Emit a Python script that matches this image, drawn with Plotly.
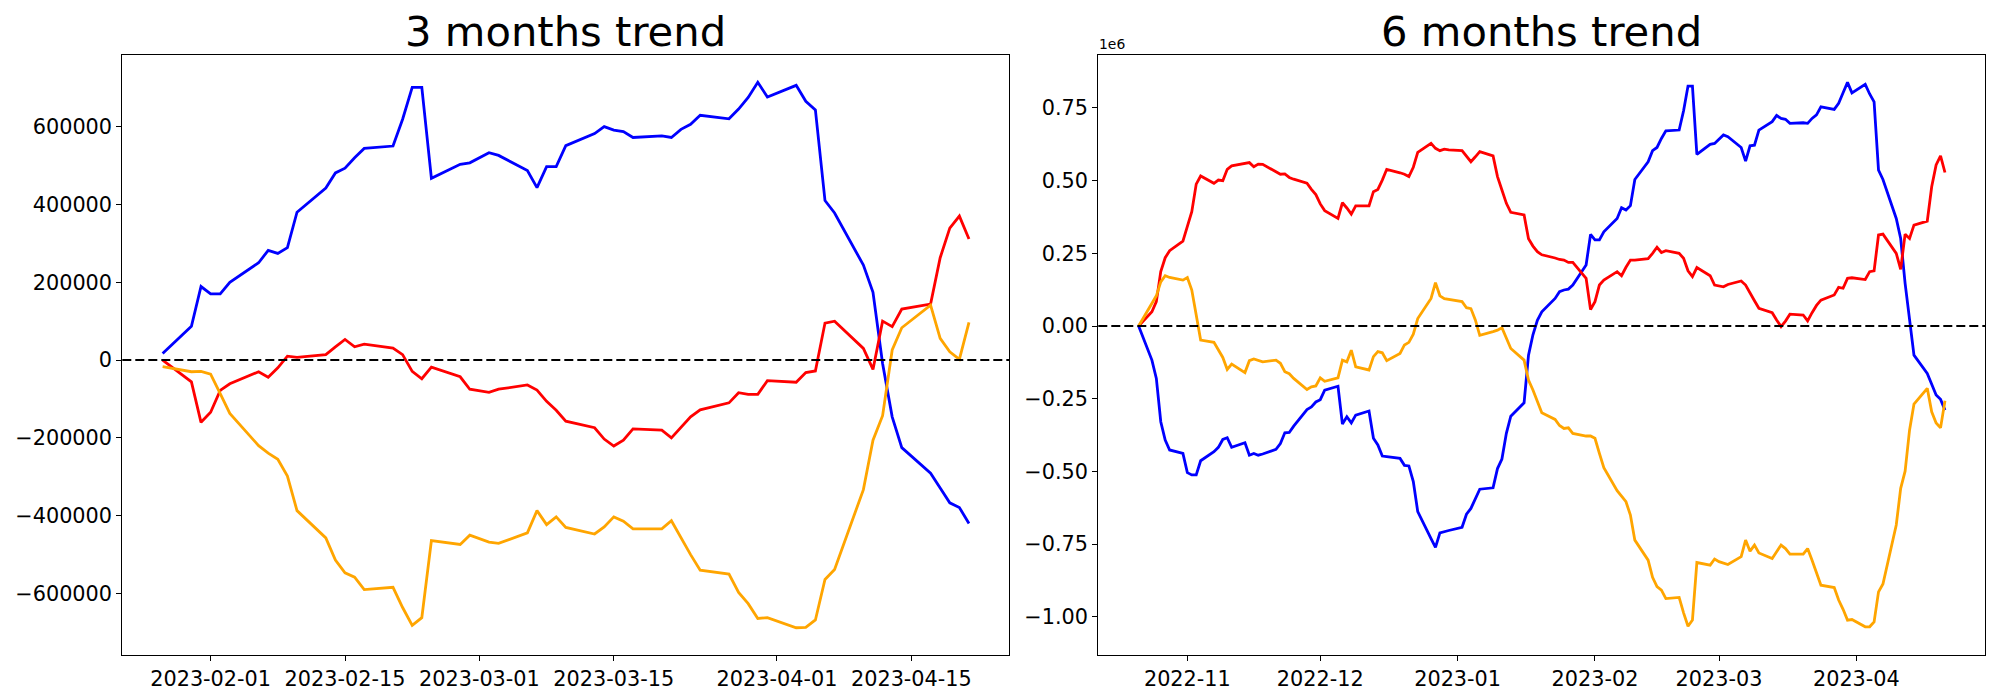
import pandas as pd
import plotly.graph_objects as go

# ---------------- data: 3 months trend ----------------
dates_3m = pd.bdate_range("2023-01-27", "2023-04-21")
blue_3m = [17, 87, 189, 170, 170, 200, 250, 282, 274, 289, 380,
           442, 481, 493, 520, 544, 550, 619, 701, 701, 467,
           503, 507, 520, 533, 526, 487, 443, 497, 497, 551,
           582, 600, 591, 587, 572, 576, 572, 593, 606, 629,
           620, 645, 675, 714, 676, 706, 665, 643, 410, 378,
           244, 174, -9, -146, -225, -291, -329, -367, -379, -420]
red_3m = [0, -56, -160, -134, -78, -61, -30, -44, -20, 10, 7,
          14, 34, 53, 34, 41, 31, 14, -29, -48, -18,
          -43, -75, -79, -83, -75, -64, -77, -106, -129, -157,
          -174, -203, -221, -206, -177, -180, -200, -172, -146, -128,
          -110, -84, -88, -88, -53, -57, -32, -28, 95, 100,
          30, -24, 100, 86, 131, 144, 263, 339, 370, 311]
orange_3m = [-17, -30, -29, -36, -86, -137, -220, -239, -255, -298, -387,
             -457, -514, -547, -558, -590, -584, -636, -682, -662, -464,
             -474, -450, -459, -468, -471, -444, -387, -423, -403, -430,
             -447, -429, -403, -414, -434, -434, -413, -457, -500, -540,
             -550, -597, -626, -664, -662, -688, -687, -668, -564, -538,
             -333, -206, -143, 26, 83, 141, 56, 21, 2, 97]

# ---------------- data: 6 months trend (in millions) ----------------
dates_6m = pd.bdate_range("2022-10-21", "2023-04-21")
blue_6m = [0.000,
           -0.117, -0.180, -0.329, -0.392, -0.426,
           -0.438, -0.504, -0.512, -0.512, -0.463,
           -0.432, -0.417, -0.390, -0.384, -0.417,
           -0.401, -0.444, -0.438, -0.444, -0.440,
           -0.424, -0.404, -0.367, -0.366, -0.344,
           -0.287, -0.278, -0.261, -0.253, -0.220,
           -0.207, -0.337, -0.312, -0.333, -0.306,
           -0.292, -0.386, -0.409, -0.447, -0.449,
           -0.455, -0.479, -0.481, -0.535, -0.638,
           -0.731, -0.761, -0.711, -0.706, -0.703,
           -0.692, -0.647, -0.627, -0.594, -0.561,
           -0.556, -0.490, -0.457, -0.369, -0.310,
           -0.264, -0.100, -0.030, 0.020, 0.049,
           0.095, 0.118, 0.124, 0.127, 0.141,
           0.210, 0.315, 0.296, 0.296, 0.324,
           0.370, 0.407, 0.399, 0.414, 0.504,
           0.565, 0.603, 0.614, 0.645, 0.671,
           0.674, 0.740, 0.825, 0.825, 0.590,
           0.625, 0.628, 0.642, 0.657, 0.651,
           0.614, 0.567, 0.620, 0.622, 0.674,
           0.703, 0.724, 0.714, 0.711, 0.697,
           0.699, 0.697, 0.714, 0.726, 0.754,
           0.745, 0.766, 0.802, 0.838, 0.802,
           0.831, 0.798, 0.771, 0.536, 0.504,
           0.370, 0.301, 0.147, 0.021, -0.100,
           -0.163, -0.203, -0.237, -0.252, -0.289]
red_6m = [0.000,
          0.049, 0.084, 0.187, 0.235, 0.259,
          0.292, 0.342, 0.393, 0.488, 0.516,
          0.491, 0.502, 0.500, 0.539, 0.551,
          0.559, 0.562, 0.548, 0.557, 0.556,
          0.531, 0.522, 0.523, 0.511, 0.505,
          0.491, 0.470, 0.452, 0.420, 0.397,
          0.370, 0.424, 0.406, 0.385, 0.413,
          0.413, 0.462, 0.470, 0.502, 0.539,
          0.527, 0.522, 0.514, 0.546, 0.597,
          0.628, 0.611, 0.603, 0.608, 0.606,
          0.603, 0.585, 0.565, 0.582, 0.600,
          0.585, 0.514, 0.468, 0.422, 0.391,
          0.382, 0.300, 0.275, 0.256, 0.245,
          0.234, 0.229, 0.227, 0.219, 0.219,
          0.164, 0.057, 0.084, 0.141, 0.158,
          0.187, 0.173, 0.202, 0.227, 0.227,
          0.232, 0.250, 0.271, 0.253, 0.259,
          0.250, 0.233, 0.190, 0.170, 0.201,
          0.173, 0.141, 0.138, 0.135, 0.143,
          0.155, 0.141, 0.112, 0.087, 0.061,
          0.046, 0.021, -0.002, 0.017, 0.041,
          0.038, 0.018, 0.046, 0.071, 0.089,
          0.107, 0.133, 0.130, 0.164, 0.166,
          0.160, 0.187, 0.190, 0.313, 0.316,
          0.250, 0.195, 0.316, 0.301, 0.347,
          0.361, 0.479, 0.554, 0.585, 0.528]
orange_6m = [0.000,
             0.076, 0.104, 0.152, 0.173, 0.167,
             0.158, 0.167, 0.124, 0.038, -0.048,
             -0.056, -0.083, -0.108, -0.149, -0.131,
             -0.160, -0.119, -0.113, -0.119, -0.123,
             -0.117, -0.128, -0.157, -0.164, -0.180,
             -0.218, -0.209, -0.206, -0.178, -0.190,
             -0.178, -0.117, -0.123, -0.083, -0.140,
             -0.151, -0.105, -0.088, -0.092, -0.119,
             -0.094, -0.065, -0.056, -0.028, 0.026,
             0.095, 0.149, 0.104, 0.094, 0.092,
             0.084, 0.063, 0.060, 0.021, -0.032,
             -0.019, -0.014, -0.006, -0.042, -0.077,
             -0.117, -0.186, -0.220, -0.260, -0.298,
             -0.321, -0.342, -0.352, -0.350, -0.369,
             -0.378, -0.378, -0.386, -0.438, -0.487,
             -0.566, -0.587, -0.604, -0.650, -0.736,
             -0.805, -0.864, -0.896, -0.908, -0.937,
             -0.933, -0.986, -1.032, -1.011, -0.813,
             -0.822, -0.801, -0.810, -0.816, -0.820,
             -0.793, -0.736, -0.774, -0.753, -0.780,
             -0.799, -0.776, -0.753, -0.765, -0.784,
             -0.784, -0.765, -0.805, -0.848, -0.891,
             -0.899, -0.942, -0.974, -1.011, -1.009,
             -1.034, -1.034, -1.017, -0.914, -0.887,
             -0.684, -0.558, -0.499, -0.358, -0.268,
             -0.214, -0.295, -0.333, -0.350, -0.257]

assert len(blue_3m) == len(red_3m) == len(orange_3m) == len(dates_3m)
assert len(blue_6m) == len(red_6m) == len(orange_6m) == len(dates_6m)

# tick labels
ytick_3m = [-600000, -400000, -200000, 0, 200000, 400000, 600000]
ytext_3m = ["\u2212600000", "\u2212400000", "\u2212200000", "0", "200000", "400000", "600000"]
xtick_3m = ["2023-02-01", "2023-02-15", "2023-03-01", "2023-03-15", "2023-04-01", "2023-04-15"]
ytick_6m = [-1.0, -0.75, -0.5, -0.25, 0.0, 0.25, 0.5, 0.75]
ytext_6m = ["\u22121.00", "\u22120.75", "\u22120.50", "\u22120.25", "0.00", "0.25", "0.50", "0.75"]
xtick_6m = ["2022-11-01", "2022-12-01", "2023-01-01", "2023-02-01", "2023-03-01", "2023-04-01"]
xtext_6m = ["2022-11", "2022-12", "2023-01", "2023-02", "2023-03", "2023-04"]

W, H = 2000, 700
FONT = "DejaVu Sans"
TICKSZ = 20.8
LW = 2.8

fig = go.Figure()
for name, vals, col in [("blue", blue_3m, "blue"), ("red", red_3m, "red"), ("orange", orange_3m, "orange")]:
    fig.add_trace(go.Scatter(x=dates_3m, y=[v * 1000 for v in vals], mode="lines",
                             line=dict(color=col, width=LW), xaxis="x", yaxis="y",
                             showlegend=False, name=name))
for name, vals, col in [("blue", blue_6m, "blue"), ("red", red_6m, "red"), ("orange", orange_6m, "orange")]:
    fig.add_trace(go.Scatter(x=dates_6m, y=[v * 1e6 for v in vals], mode="lines",
                             line=dict(color=col, width=LW), xaxis="x2", yaxis="y2",
                             showlegend=False, name=name))

dom1 = [122.3 / W, 1009.3 / W]
dom2 = [1098.3 / W, 1985.3 / W]
ydom = [1 - 655 / H, 1 - 55 / H]

axis_common = dict(showline=True, mirror=True, linecolor="black", linewidth=1.1,
                   ticks="outside", ticklen=5, tickwidth=1.1, tickcolor="black",
                   showgrid=False, zeroline=False,
                   tickfont=dict(family=FONT, size=TICKSZ, color="black"))

fig.update_layout(
    width=W, height=H, autosize=False,
    margin=dict(l=0, r=0, t=0, b=0),
    paper_bgcolor="white", plot_bgcolor="white",
    font=dict(family=FONT, color="black"),
    xaxis=dict(domain=dom1, anchor="y", type="date",
               range=["2023-01-22 19:12", "2023-04-25 04:48"],
               tickvals=xtick_3m, ticktext=xtick_3m, **axis_common),
    yaxis=dict(domain=ydom, anchor="x", range=[-758000, 784000],
               tickvals=ytick_3m, ticktext=ytext_3m, **axis_common),
    xaxis2=dict(domain=dom2, anchor="y2", type="date",
                range=["2022-10-11 21:36", "2023-04-30 02:24"],
                tickvals=xtick_6m, ticktext=xtext_6m, **axis_common),
    yaxis2=dict(domain=ydom, anchor="x2", range=[-1.131e6, 0.932e6],
                tickvals=[v * 1e6 for v in ytick_6m], ticktext=ytext_6m, **axis_common),
)

# dashed zero lines
for xr, yr in [("x domain", "y"), ("x2 domain", "y2")]:
    fig.add_shape(type="line", xref=xr, yref=yr, x0=0, x1=1, y0=0, y1=0,
                  line=dict(color="black", width=2, dash="9px,4px"), layer="above")

# titles
fig.add_annotation(text="3 months trend", xref="paper", yref="paper",
                   x=(dom1[0] + dom1[1]) / 2, y=1 - 32 / H, xanchor="center", yanchor="middle",
                   showarrow=False, font=dict(family=FONT, size=41.7, color="black"))
fig.add_annotation(text="6 months trend", xref="paper", yref="paper",
                   x=(dom2[0] + dom2[1]) / 2, y=1 - 32 / H, xanchor="center", yanchor="middle",
                   showarrow=False, font=dict(family=FONT, size=41.7, color="black"))
fig.add_annotation(text="1e6", xref="paper", yref="paper",
                   x=1097 / W, y=1 - 54 / H, xanchor="left", yanchor="bottom",
                   showarrow=False, font=dict(family=FONT, size=13.9, color="black"))

fig.write_html("out.html", config={"displayModeBar": False},
               post_script="document.body.style.margin='0';document.body.style.overflow='hidden';")
